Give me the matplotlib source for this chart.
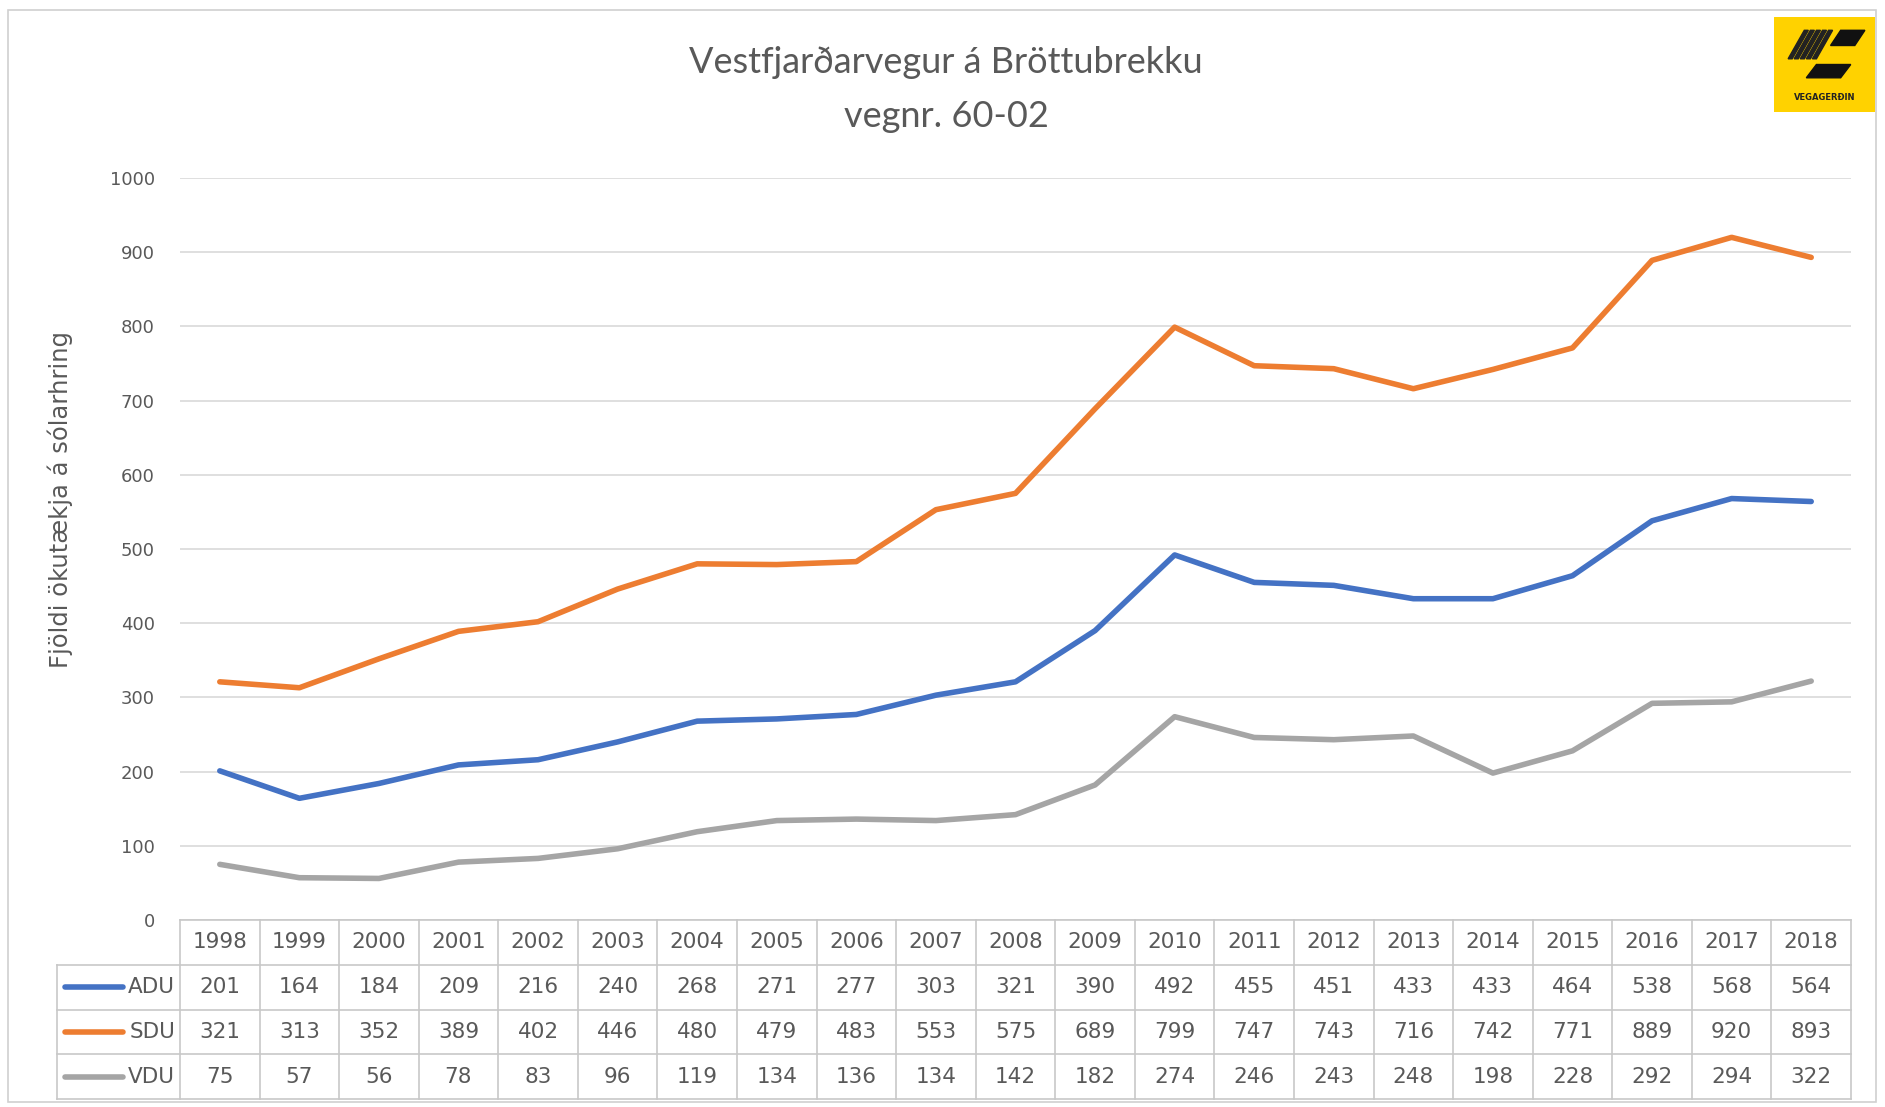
import matplotlib.pyplot as plt
from matplotlib.patches import Rectangle, Polygon

years = [1998, 1999, 2000, 2001, 2002, 2003, 2004, 2005, 2006, 2007, 2008,
         2009, 2010, 2011, 2012, 2013, 2014, 2015, 2016, 2017, 2018]
adu = [201, 164, 184, 209, 216, 240, 268, 271, 277, 303, 321,
       390, 492, 455, 451, 433, 433, 464, 538, 568, 564]
sdu = [321, 313, 352, 389, 402, 446, 480, 479, 483, 553, 575,
       689, 799, 747, 743, 716, 742, 771, 889, 920, 893]
vdu = [75, 57, 56, 78, 83, 96, 119, 134, 136, 134, 142,
       182, 274, 246, 243, 248, 198, 228, 292, 294, 322]

names = ["ADU", "SDU", "VDU"]
colors = ["#4472C4", "#ED7D31", "#A5A5A5"]
series = [adu, sdu, vdu]

txt_col = "#595959"
grid_col = "#D9D9D9"
tfont = ["Liberation Sans Narrow", "DejaVu Sans"]

W, H = 1885, 1107
fig = plt.figure(figsize=(W / 100, H / 100), dpi=100)

# outer frame
fig.patches.append(Rectangle((8 / W, 1 - 1102 / H), 1868 / W, 1092 / H,
                             transform=fig.transFigure, fill=False,
                             edgecolor="#D0D0D0", lw=1.2))

# main plot
x0, x1 = 180 / W, 1851 / W
ytop, ybot = 1 - 178 / H, 1 - 920 / H
ax = fig.add_axes([x0, ybot, x1 - x0, ytop - ybot])
xs = list(range(len(years)))
for s, c in zip(series, colors):
    ax.plot(xs, s, color=c, lw=4, solid_capstyle="round", zorder=3)
ax.set_xlim(-0.5, len(years) - 0.5)
ax.set_ylim(0, 1000)
ax.set_yticks(range(0, 1001, 100))
ax.set_xticks([])
ax.tick_params(axis="y", length=0, pad=18, labelsize=13, labelcolor=txt_col)
ax.grid(axis="y", color=grid_col, lw=1.2)
for sp in ax.spines.values():
    sp.set_visible(False)
ax.set_ylabel("Fjöldi ökutækja á sólarhring", fontsize=17.5, color=txt_col, family=tfont)
ax.yaxis.set_label_coords(-0.064, 0.567)

fig.text(787 * 1.2022 / W, 1 - 52 * 1.2022 / H, "Vestfjarðarvegur á Bröttubrekku",
         ha="center", va="center", fontsize=26, color=txt_col, family=["Lato", "DejaVu Sans"])
fig.text(787 * 1.2022 / W, 1 - 97 * 1.2022 / H, "vegnr. 60-02",
         ha="center", va="center", fontsize=26, color=txt_col, family=["Lato", "DejaVu Sans"])

# data table
tb_bot = 1 - 1099 / H
axt = fig.add_axes([x0, tb_bot, x1 - x0, ybot - tb_bot])
axt.set_xlim(-0.5, len(years) - 0.5)
axt.set_ylim(4, 0)
axt.axis("off")
line_col = "#C8C8C8"
left = -2.045
axt.plot([-0.5, len(years) - 0.5], [0, 0], color=line_col, lw=1.2, clip_on=False)
for r in range(1, 5):
    axt.plot([left, len(years) - 0.5], [r, r], color=line_col, lw=1.2, clip_on=False)
for i in range(len(years) + 1):
    axt.plot([i - 0.5, i - 0.5], [0, 4], color=line_col, lw=1.2, clip_on=False)
axt.plot([left, left], [1, 4], color=line_col, lw=1.2, clip_on=False)
for i, y in enumerate(years):
    axt.text(i, 0.5, str(y), ha="center", va="center", fontsize=15.5,
             color=txt_col, family=tfont)
for r, (n, s, c) in enumerate(zip(names, series, colors), start=1):
    axt.plot([-1.95, -1.22], [r + 0.5, r + 0.5], color=c, lw=4,
             solid_capstyle="round", clip_on=False)
    axt.text(-0.56, r + 0.5, n, ha="right", va="center", fontsize=15.5,
             color=txt_col, family=tfont)
    for i, v in enumerate(s):
        axt.text(i, r + 0.5, str(v), ha="center", va="center", fontsize=15.5,
                 color=txt_col, family=tfont)

# logo
axl = fig.add_axes([1774 / W, 1 - 112 / H, 101 / W, 95 / H])
axl.set_xlim(0, 1)
axl.set_ylim(0, 1)
axl.axis("off")
axl.add_patch(Rectangle((0, 0), 1, 1, color="#FFD200"))
for k in range(5):
    axl.add_patch(Polygon([(0.30 + k * 0.06, 0.86), (0.34 + k * 0.06, 0.86),
                           (0.18 + k * 0.06, 0.56), (0.14 + k * 0.06, 0.56)],
                          color="#222222"))
axl.add_patch(Polygon([(0.66, 0.86), (0.9, 0.86), (0.8, 0.70), (0.56, 0.70)], color="#111111"))
axl.add_patch(Polygon([(0.42, 0.50), (0.76, 0.50), (0.66, 0.36), (0.32, 0.36)], color="#111111"))
axl.text(0.5, 0.15, "VEGAGERÐIN", ha="center", va="center", fontsize=6,
         fontweight="bold", color="#222222")

fig.savefig("out.png", dpi=100, facecolor="white")
